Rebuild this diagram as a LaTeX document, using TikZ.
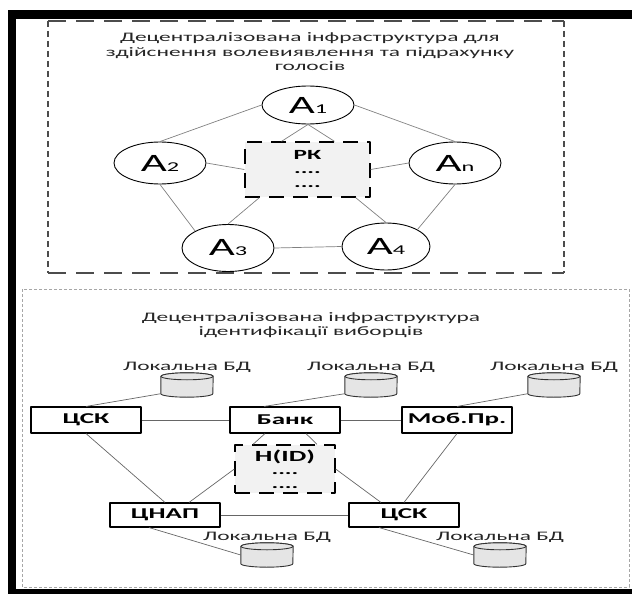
\documentclass[tikz,border=0pt]{standalone}
\usepackage{fontspec}
\setmainfont{Carlito}[FakeStretch=1.8]
\usetikzlibrary{shapes.geometric,positioning,calc}

\newcommand{\agname}[1]{A{\fontsize{13.5}{13.5}\selectfont #1}}
% cylinder drawn inside a named box node
\newcommand{\dbdraw}[1]{%
  \filldraw[dbfill] ([yshift=-3.5pt]#1.north west) -- ([yshift=3.5pt]#1.south west)
    arc[start angle=180,end angle=360,x radius=26pt,y radius=3.5pt]
    -- ([yshift=-3.5pt]#1.north east)
    arc[start angle=0,end angle=180,x radius=26pt,y radius=3.5pt] -- cycle;
  \draw[dbfill] ([yshift=-3.5pt]#1.north) ellipse[x radius=26pt,y radius=3.5pt];}

\tikzset{
  agent/.style={ellipse,draw,line width=0.9pt,fill=white,minimum width=92pt,minimum height=42pt,inner sep=0pt,font=\fontsize{25}{25}\selectfont},
  keybox/.style={draw,fill=black!5,line width=1.3pt,dash pattern=on 15pt off 9pt,align=center,inner sep=0pt,font=\bfseries\fontsize{14}{11}\selectfont},
  orgbox/.style={draw,fill=white,line width=1.1pt,minimum width=110pt,minimum height=26pt,inner sep=0pt,font=\bfseries\fontsize{15}{15}\selectfont},
  dbase/.style={rectangle,minimum width=52pt,minimum height=24pt,inner sep=0pt,label distance=0pt},
  dbfill/.style={draw=black!80,fill=black!10,line width=0.9pt},
  dblabel/.style={font=\fontsize{13}{13}\selectfont,inner sep=0pt,text=black!85},
  link/.style={draw=black!50,line width=0.7pt},
  titletext/.style={align=center,font=\fontsize{13}{14.5}\selectfont,text=black!85}
}

\begin{document}
\begin{tikzpicture}[x=1pt,y=-1pt,line join=round]
  \useasboundingbox (0,0) rectangle (632,594);
  % frame
  \fill (8,10) rectangle (16,594);
  \fill (8,10) rectangle (632,19);
  \fill (8,589) rectangle (632,594);
  % upper block
  \draw[black!70,line width=1.3pt,dash pattern=on 18pt off 10pt] (48,21) -- (564,21) (48,273) -- (564,273);
  \draw[black!70,line width=1.3pt,dash pattern=on 6pt off 4pt] (48,21) -- (48,273) (564,21) -- (564,273);
  \node[titletext] (title1) at (310,52) {Децентралізована інфраструктура для\\здійснення волевиявлення та підрахунку\\голосів};

  \node[agent,minimum height=38pt] (A1) at (308,105) {\agname{1}};
  \node[agent] (A2) at (160,163) {\agname{2}};
  \node[agent] (An) at (455,163) {\agname{n}};
  \node[agent,minimum height=47pt] (A3) at (228,248) {\agname{3}};
  \node[agent,minimum width=88pt,minimum height=47pt] (A4) at (386,246.5) {\agname{4}};
  \node[keybox,minimum width=125pt,minimum height=55pt] (pk) at (307.5,169.5) {РК\\[3pt]....\\[3pt]....};

  \draw[link] (A1.west) -- (A2.north);
  \draw[link] (A1.east) -- (An.north);
  \draw[link] (A2.south) -- (A3.north west);
  \draw[link] (An.south) -- (A4.north east);
  \draw[link] (A3.east) -- (A4.west);
  \draw[link] (A1.south) -- ([xshift=-26pt]pk.north);
  \draw[link] (A1.south) -- ([xshift=27pt]pk.north);
  \draw[link] (pk.west) -- (A2.east);
  \draw[link] (pk.east) -- (An.west);
  \draw[link] ([xshift=15pt]pk.south west) -- (A3.north);
  \draw[link] ([xshift=-15pt]pk.south east) -- (A4.north);

  % lower block
  \draw[black!35,line width=0.8pt,dash pattern=on 3pt off 2pt] (22,289) rectangle (629,587);
  \node[titletext] (title2) at (311,325) {Децентралізована інфраструктура\\ідентифікації виборців};

  \node[dbase,label={[dblabel]above:Локальна БД}] (db1) at (187,385) {};
  \node[dbase,label={[dblabel]above:Локальна БД}] (db2) at (371,385) {};
  \node[dbase,label={[dblabel]above:Локальна БД}] (db3) at (554,385) {};
  \node[orgbox] (csk1) at (86,420) {ЦСК};
  \node[orgbox] (bank) at (285,420) {Банк};
  \node[orgbox] (mob) at (457,420) {Моб.Пр.};
  \node[keybox,minimum width=100pt,minimum height=48pt] (hid) at (285,469) {{\fontsize{15.5}{15}\selectfont H(ID)}\\[2pt]....\\[3pt]....};
  \node[orgbox,minimum height=24pt] (cnap) at (165,515) {ЦНАП};
  \node[orgbox,minimum height=24pt] (csk2) at (404,515) {ЦСК};
  \node[dbase,label={[dblabel]above:Локальна БД}] (db4) at (267,555) {};
  \node[dbase,label={[dblabel]above:Локальна БД}] (db5) at (500,555) {};
  \foreach \d in {db1,db2,db3,db4,db5} {\dbdraw{\d}}

  \draw[link,draw=black!60] ([yshift=3.5pt]db1.south west) -- (csk1.north);
  \draw[link,draw=black!60] ([yshift=3.5pt]db2.south west) -- ([xshift=-21pt]bank.north);
  \draw[link,draw=black!60] ([yshift=3.5pt]db3.south west) -- (mob.north);
  \draw[link,draw=black!60] (csk1.east) -- (bank.west);
  \draw[link,draw=black!60] (bank.east) -- (mob.west);
  \draw[link,draw=black!60] ([xshift=-20pt]bank.south) -- ([xshift=-32pt]hid.north);
  \draw[link,draw=black!60] ([xshift=21pt]bank.south) -- ([xshift=32pt]hid.north);
  \draw[link,draw=black!60] (csk1.south) -- (cnap.north);
  \draw[link,draw=black!60] (hid.west) -- ([xshift=24pt]cnap.north);
  \draw[link,draw=black!60] (hid.east) -- ([xshift=-23pt]csk2.north);
  \draw[link,draw=black!60] (mob.south) -- (csk2.north);
  \draw[link,draw=black!60] (cnap.east) -- (csk2.west);
  \draw[link,draw=black!60] ([xshift=-16pt]cnap.south) -- (db4.west);
  \draw[link,draw=black!60] ([xshift=-25pt]csk2.south) -- (db5.west);
\end{tikzpicture}
\end{document}
